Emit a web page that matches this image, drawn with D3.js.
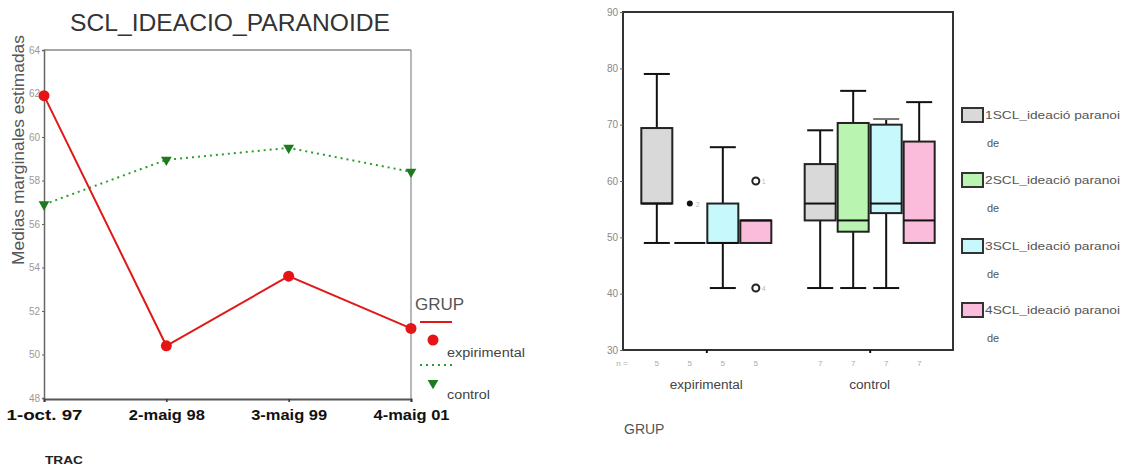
<!DOCTYPE html>
<html>
<head>
<meta charset="utf-8">
<script src="https://cdn.jsdelivr.net/npm/d3@7"></script>
<style>
  html, body { margin: 0; padding: 0; background: #fff; }
  svg { display: block; font-family: "Liberation Sans", Arial, sans-serif; }
</style>
</head>
<body>
<svg id="chart" width="1133" height="467"></svg>
<script>
// ---------- Left chart data ----------
const times = ["1-oct. 97", "2-maig 98", "3-maig 99", "4-maig 01"];
const lineGroups = ["expirimental", "control"];
const expMeans = [61.9, 50.4, 53.6, 51.2];
const ctrlMeans = [56.9, 58.95, 59.5, 58.4];
const leftTicks = [64, 62, 60, 58, 56, 54, 52, 50, 48];

// ---------- Right chart data ----------
const boxGroups = ["expirimental", "control"];
const boxSeries = ["1SCL_ideació paranoi", "2SCL_ideació paranoi", "3SCL_ideació paranoi", "4SCL_ideació paranoi"];
// [whiskerLow, q1, median, q3, whiskerHigh] per group
const box1 = [[49, 56, 56, 69.4, 79], [41, 53, 56, 63, 69]];
const box2 = [[49, 49, 49, 49, 49], [41, 51, 53, 70.3, 76]];
const box3 = [[41, 49, 49, 56, 66], [41, 54.3, 56, 70, 71]];
const box4 = [[49, 49, 53, 53, 53], [49, 49, 53, 67, 74]];
const boxN = [[5, 5, 5, 5], [7, 7, 7, 7]];
// outliers: [groupIndex, seriesIndex, value, type, label]
const outliers = [[0, 1, 56, "extreme", "2"], [0, 3, 60, "outlier", "1"], [0, 3, 41, "outlier", "4"]];
const rightTicks = [90, 80, 70, 60, 50, 40, 30];
const boxColors = ["#d9d9d9", "#b9f5b1", "#c6f8fc", "#fbbcdb"];

const svg = d3.select("#chart");

// ================= LEFT CHART =================
const xL = d3.scalePoint().domain(times).range([44, 411]).padding(0);
const yL = d3.scaleLinear().domain([48, 64]).range([398, 50]);

const gL = svg.append("g");

// title
gL.append("text").attr("x", 230).attr("y", 31).attr("text-anchor", "middle")
  .attr("font-size", 24).attr("fill", "#333").attr("textLength", 320).attr("lengthAdjust", "spacingAndGlyphs")
  .text("SCL_IDEACIO_PARANOIDE");

// frame (top & right)
gL.append("line").attr("x1", 44).attr("x2", 411).attr("y1", 50).attr("y2", 50)
  .attr("stroke", "#888").attr("stroke-width", 1.5);
gL.append("line").attr("x1", 411).attr("x2", 411).attr("y1", 50).attr("y2", 399)
  .attr("stroke", "#888").attr("stroke-width", 1.2);

// y axis
const yAxisL = d3.axisLeft(yL).tickValues(leftTicks).tickSize(2).tickPadding(2).tickFormat(d3.format("d"));
const yAx = gL.append("g").attr("transform", "translate(44,0)").call(yAxisL);
yAx.select(".domain").attr("stroke", "#666").attr("stroke-width", 1.5);
yAx.selectAll(".tick line").attr("stroke", "#666");
yAx.selectAll("text").attr("font-size", 10).attr("fill", "#999").attr("font-family", "Liberation Sans, Arial");

// x axis
const xAxisL = d3.axisBottom(xL).tickSize(3).tickPadding(7);
const xAx = gL.append("g").attr("transform", "translate(0,399)").call(xAxisL);
xAx.select(".domain").attr("stroke", "#555").attr("stroke-width", 2);
xAx.selectAll(".tick line").attr("stroke", "#333").attr("stroke-width", 1.5);
xAx.selectAll("text").attr("font-size", 15).attr("font-weight", "bold").attr("fill", "#111")
  .attr("font-family", "Liberation Sans, Arial")
  .attr("textLength", 76).attr("lengthAdjust", "spacingAndGlyphs");

// y title
gL.append("text").attr("transform", "translate(24,150) rotate(-90)").attr("text-anchor", "middle")
  .attr("font-size", 17).attr("fill", "#555").attr("textLength", 230).attr("lengthAdjust", "spacingAndGlyphs")
  .text("Medias marginales estimadas");

// x title
gL.append("text").attr("x", 45).attr("y", 464).attr("font-size", 11).attr("font-weight", "bold")
  .attr("fill", "#222").attr("textLength", 38).attr("lengthAdjust", "spacingAndGlyphs").text("TRAC");

// lines
const lineGen = d3.line().x((d, i) => xL(times[i])).y(d => yL(d));
gL.append("path").datum(ctrlMeans).attr("d", lineGen).attr("fill", "none")
  .attr("stroke", "#2aa02a").attr("stroke-width", 2).attr("stroke-dasharray", "2,4");
gL.append("path").datum(expMeans).attr("d", lineGen).attr("fill", "none")
  .attr("stroke", "#e01818").attr("stroke-width", 2);

const tri = d3.symbol().type(d3.symbolTriangle).size(50);
gL.selectAll(".ctrlpt").data(ctrlMeans).join("path")
  .attr("transform", (d, i) => `translate(${xL(times[i])},${yL(d)}) rotate(180)`)
  .attr("d", tri).attr("fill", "#1e7a1e");
gL.selectAll(".exppt").data(expMeans).join("circle")
  .attr("cx", (d, i) => xL(times[i])).attr("cy", d => yL(d)).attr("r", 5.5).attr("fill", "#e51515");

// legend
gL.append("text").attr("x", 415).attr("y", 310).attr("font-size", 17).attr("fill", "#555").text("GRUP");
gL.append("line").attr("x1", 420).attr("x2", 452).attr("y1", 322).attr("y2", 322)
  .attr("stroke", "#e01818").attr("stroke-width", 2);
gL.append("circle").attr("cx", 433).attr("cy", 340).attr("r", 5.5).attr("fill", "#e51515");
gL.append("text").attr("x", 447).attr("y", 357).attr("font-size", 12).attr("fill", "#444")
  .attr("textLength", 78).attr("lengthAdjust", "spacingAndGlyphs").text(lineGroups[0]);
gL.append("line").attr("x1", 420).attr("x2", 452).attr("y1", 365).attr("y2", 365)
  .attr("stroke", "#2aa02a").attr("stroke-width", 2).attr("stroke-dasharray", "2,4");
gL.append("path").attr("transform", "translate(433,383) rotate(180)").attr("d", tri).attr("fill", "#1e7a1e");
gL.append("text").attr("x", 447).attr("y", 399).attr("font-size", 12).attr("fill", "#444")
  .attr("textLength", 43).attr("lengthAdjust", "spacingAndGlyphs").text(lineGroups[1]);

// ================= RIGHT CHART =================
const pLeft = 623, pRight = 953, pTop = 12, pBottom = 350;
const xG = d3.scalePoint().domain(boxGroups).range([pLeft, pRight]).padding(0.51);
const xS = d3.scaleBand().domain(boxSeries).range([-66, 66]).padding(0);
const yR = d3.scaleLinear().domain([30, 90]).range([pBottom, pTop]);
const gR = svg.append("g");

const allBoxes = [box1, box2, box3, box4];
const bw = xS.bandwidth();
const capW = 26;

boxGroups.forEach((grp, gi) => {
  boxSeries.forEach((ser, si) => {
    const [wl, q1, med, q3, wh] = allBoxes[si][gi];
    const cx = xG(grp) + xS(ser) + bw / 2;
    const x0 = xG(grp) + xS(ser);
    const g = gR.append("g");
    if (wh > q3) {
      g.append("line").attr("x1", cx).attr("x2", cx).attr("y1", yR(q3)).attr("y2", yR(wh)).attr("stroke", "#111").attr("stroke-width", 2);
      g.append("line").attr("x1", cx - capW / 2).attr("x2", cx + capW / 2).attr("y1", yR(wh)).attr("y2", yR(wh)).attr("stroke", si === 2 && gi === 1 ? "#777" : "#111").attr("stroke-width", 2);
    }
    if (wl < q1) {
      g.append("line").attr("x1", cx).attr("x2", cx).attr("y1", yR(q1)).attr("y2", yR(wl)).attr("stroke", "#111").attr("stroke-width", 2);
      g.append("line").attr("x1", cx - capW / 2).attr("x2", cx + capW / 2).attr("y1", yR(wl)).attr("y2", yR(wl)).attr("stroke", "#111").attr("stroke-width", 2);
    }
    g.append("rect").attr("x", x0 + 1).attr("width", bw - 2)
      .attr("y", yR(q3)).attr("height", Math.max(0, yR(q1) - yR(q3)))
      .attr("fill", boxColors[si]).attr("stroke", "#222").attr("stroke-width", 2);
    g.append("line").attr("x1", x0 + 1).attr("x2", x0 + bw - 1).attr("y1", yR(med)).attr("y2", yR(med))
      .attr("stroke", "#111").attr("stroke-width", 2);
    gR.append("text").attr("x", cx).attr("y", 366).attr("text-anchor", "middle")
      .attr("font-size", 8).attr("fill", "#aaa").text(boxN[gi][si]);
  });
});

outliers.forEach(([gi, si, v, type, lab]) => {
  const cx = xG(boxGroups[gi]) + xS(boxSeries[si]) + bw / 2;
  if (type === "extreme") {
    gR.append("circle").attr("cx", cx).attr("cy", yR(v)).attr("r", 3).attr("fill", "#111");
  } else {
    gR.append("circle").attr("cx", cx).attr("cy", yR(v)).attr("r", 3.5).attr("fill", "none")
      .attr("stroke", "#222").attr("stroke-width", 2);
  }
  gR.append("text").attr("x", cx + 6).attr("y", yR(v) + 3).attr("font-size", 7).attr("fill", "#bbb").text(lab);
});

gR.append("rect").attr("x", pLeft).attr("y", pTop).attr("width", pRight - pLeft).attr("height", pBottom - pTop)
  .attr("fill", "none").attr("stroke", "#333").attr("stroke-width", 2);

const yAxisR = d3.axisLeft(yR).tickValues(rightTicks).tickSize(3).tickPadding(2).tickFormat(d3.format("d"));
const yAxR = gR.append("g").attr("transform", `translate(${pLeft},0)`).call(yAxisR);
yAxR.select(".domain").remove();
yAxR.selectAll(".tick line").attr("stroke", "#666");
yAxR.selectAll("text").attr("font-size", 10).attr("fill", "#888").attr("font-family", "Liberation Sans, Arial");

const xAxisR = d3.axisBottom(xG).tickSize(3).tickFormat("");
const xAxR = gR.append("g").attr("transform", `translate(0,${pBottom})`).call(xAxisR);
xAxR.select(".domain").remove();
xAxR.selectAll(".tick line").attr("stroke", "#111").attr("stroke-width", 2);

gR.append("text").attr("x", 622).attr("y", 366).attr("text-anchor", "middle").attr("font-size", 8)
  .attr("fill", "#aaa").text("n =");
const grpLen = [73, 41];
boxGroups.forEach((grp, gi) => {
  gR.append("text").attr("x", xG(grp)).attr("y", 389).attr("text-anchor", "middle")
    .attr("font-size", 12).attr("fill", "#444")
    .attr("textLength", grpLen[gi]).attr("lengthAdjust", "spacingAndGlyphs").text(grp);
});
gR.append("text").attr("x", 624).attr("y", 434).attr("font-size", 14).attr("fill", "#555").text("GRUP");

const legY = [115, 180, 246, 310];
boxSeries.forEach((ser, si) => {
  gR.append("rect").attr("x", 962).attr("y", legY[si] - 7).attr("width", 21).attr("height", 14)
    .attr("fill", boxColors[si]).attr("stroke", "#333").attr("stroke-width", 2);
  gR.append("text").attr("x", 985).attr("y", legY[si] + 4).attr("font-size", 11).attr("fill", "#555")
    .attr("textLength", 135).attr("lengthAdjust", "spacingAndGlyphs").text(ser);
  gR.append("text").attr("x", 987).attr("y", legY[si] + 32).attr("font-size", 11).attr("fill", "#555").text("de");
});
</script>
</body>
</html>
